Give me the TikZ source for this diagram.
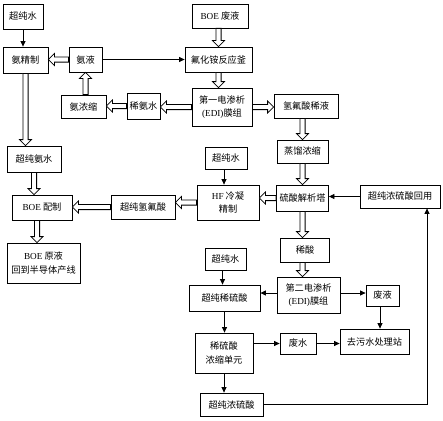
\documentclass[tikz,border=0pt]{standalone}
\usepackage{fontspec}
\setmainfont{Liberation Serif}
\newfontfamily\cjk{Noto Sans CJK SC}
\usetikzlibrary{calc,arrows.meta}
\newcommand\lat[1]{{\rmfamily #1}}
\tikzset{
  box/.style={draw, line width=0.8pt, inner sep=0pt, align=center,
    font=\fontsize{9.2}{13.5}\selectfont\cjk},
  holl/.style={draw, line width=0.8pt, fill=white, line join=miter},
  thinarrow/.style={draw, line width=0.8pt, -{Triangle[length=5.5pt,width=5pt]}}
}
\newcommand\hol[2]{%
  \coordinate (hA) at (#1);
  \coordinate (hB) at (#2);
  \coordinate (hC) at ($(hB)!6pt!(hA)$);
  \draw[holl] ($(hA)!2.6pt!90:(hB)$) -- ($(hC)!2.6pt!90:(hB)$) -- ($(hC)!6pt!90:(hB)$)
    -- (hB) -- ($(hC)!6pt!-90:(hB)$) -- ($(hC)!2.6pt!-90:(hB)$) -- ($(hA)!2.6pt!-90:(hB)$) -- cycle;}
\begin{document}
\begin{tikzpicture}[x=1pt,y=-1pt]
\useasboundingbox (0,0) rectangle (443,420);
% nodes
\node[box, minimum width=40pt, minimum height=25pt] (w1) at (23,16.5) {超纯水};
\node[box, minimum width=45pt, minimum height=26pt] (ajz) at (25.5,60) {氨精制};
\node[box, minimum width=33pt, minimum height=25pt] (ay) at (85.5,59.5) {氨液};
\node[box, minimum width=67pt, minimum height=25pt] (fhy) at (218.5,59.5) {氟化铵反应釜};
\node[box, minimum width=56pt, minimum height=24pt] (boe) at (220,16) {\lat{BOE} 废液};
\node[box, minimum width=45pt, minimum height=23pt] (anc) at (83.5,106.5) {氨浓缩};
\node[box, minimum width=33pt, minimum height=26pt] (xas) at (143.5,106) {稀氨水};
\node[box, minimum width=60pt, minimum height=38pt] (edi1) at (222,107) {第一电渗析\\\lat{(EDI)}膜组};
\node[box, minimum width=64pt, minimum height=24pt] (qfs) at (306,106) {氢氟酸稀液};
\node[box, minimum width=51pt, minimum height=23pt] (zl) at (302.5,151.5) {蒸馏浓缩};
\node[box, minimum width=54pt, minimum height=26pt] (cpas) at (34,159) {超纯氨水};
\node[box, minimum width=42pt, minimum height=22pt] (w2) at (226,158) {超纯水};
\node[box, minimum width=62pt, minimum height=35pt] (hf) at (228,202.5) {\lat{HF} 冷凝\\精制};
\node[box, minimum width=52pt, minimum height=26pt] (lsj) at (302.5,198) {硫酸解析塔};
\node[box, minimum width=80pt, minimum height=23pt] (hy) at (400,196.5) {超纯浓硫酸回用};
\node[box, minimum width=60pt, minimum height=25pt] (boepz) at (42,207.5) {\lat{BOE} 配制};
\node[box, minimum width=64pt, minimum height=24pt] (cpqf) at (143,207) {超纯氢氟酸};
\node[box, minimum width=73pt, minimum height=40pt] (boeyy) at (43.5,263) {\lat{BOE} 原液\\回到半导体产线};
\node[box, minimum width=41pt, minimum height=22pt] (w3) at (225.5,259) {超纯水};
\node[box, minimum width=49pt, minimum height=24pt] (xs) at (305,250) {稀酸};
\node[box, minimum width=63pt, minimum height=36pt] (edi2) at (308.5,295) {第二电渗析\\\lat{(EDI)}膜组};
\node[box, minimum width=71pt, minimum height=26pt] (cpxls) at (224.5,298) {超纯稀硫酸};
\node[box, minimum width=33pt, minimum height=21pt] (fy) at (382.5,295.5) {废液};
\node[box, minimum width=58pt, minimum height=40pt] (xlsns) at (224,353) {稀硫酸\\浓缩单元};
\node[box, minimum width=36pt, minimum height=21pt] (fs) at (298,343.5) {废水};
\node[box, minimum width=69pt, minimum height=25pt] (qws) at (374.5,341.5) {去污水处理站};
\node[box, minimum width=63pt, minimum height=23pt] (cpns) at (231.5,404.5) {超纯浓硫酸};
% thin arrows
\draw[thinarrow] (w1.south) -- (w1.south |- ajz.north);
\draw[thinarrow] (ay.east) -- (ay.east -| fhy.west);
\draw[thinarrow] ([xshift=-2pt]w2.south) -- ([xshift=-2pt]w2.south |- hf.north);
\draw[thinarrow] (hy.west) -- (hy.west -| lsj.east);
\draw[thinarrow] ([xshift=-3pt]w3.south) -- ([xshift=-3pt]w3.south |- cpxls.north);
\draw[thinarrow] ([yshift=2pt]edi2.west) -- ([yshift=2pt]edi2.west -| cpxls.east);
\draw[thinarrow] ([yshift=2pt]edi2.east) -- ([yshift=2pt]edi2.east -| fy.west);
\draw[thinarrow] ([xshift=-2.5pt]fy.south) -- ([xshift=-2.5pt]fy.south |- qws.north);
\draw[thinarrow] (cpxls.south) -- (cpxls.south |- xlsns.north);
\draw[thinarrow] (fs.west -| xlsns.east) -- (fs.west);
\draw[thinarrow] (fs.east) -- (fs.east -| qws.west);
\draw[thinarrow] (xlsns.south) -- (xlsns.south |- cpns.north);
\coordinate (turn) at ([xshift=27pt]hy.south);
\draw[thinarrow] (cpns.east) -| (turn);
% hollow arrows
\hol{boe.south -| fhy.north}{fhy.north}
\hol{ay.west}{ay.west -| ajz.east}
\hol{fhy.south}{fhy.south |- edi1.north}
\hol{edi1.west}{edi1.west -| xas.east}
\hol{xas.west}{xas.west -| anc.east}
\hol{ay.south |- anc.north}{ay.south}
\hol{edi1.east}{edi1.east -| qfs.west}
\hol{zl.north |- qfs.south}{zl.north}
\hol{zl.south}{zl.south |- lsj.north}
\hol{lsj.west}{lsj.west -| hf.east}
\hol{hf.west}{hf.west -| cpqf.east}
\hol{cpqf.west}{cpqf.west -| boepz.east}
\hol{ajz.south}{ajz.south |- cpas.north}
\hol{cpas.south}{cpas.south |- boepz.north}
\hol{[xshift=-5pt]boepz.south}{[xshift=-5pt]boepz.south |- boeyy.north}
\hol{lsj.south}{lsj.south |- xs.north}
\hol{xs.south -| lsj.south}{lsj.south |- edi2.north}
\end{tikzpicture}
\end{document}
